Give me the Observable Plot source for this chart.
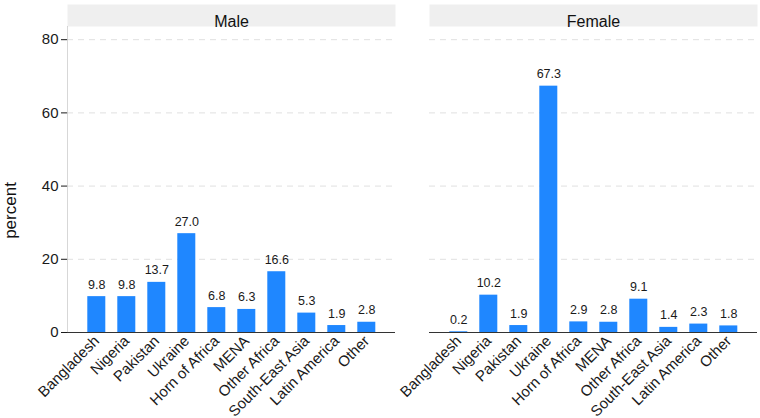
<!DOCTYPE html>
<html>
<head>
<meta charset="utf-8">
<script src="https://cdn.jsdelivr.net/npm/d3@7"></script>
<script src="https://cdn.jsdelivr.net/npm/@observablehq/plot@0.6"></script>
<style>
  html, body { margin: 0; padding: 0; background: #ffffff; }
  #chart { width: 760px; height: 418px; }
</style>
</head>
<body>
<div id="chart"></div>
<script>
const categories = ["Bangladesh", "Nigeria", "Pakistan", "Ukraine", "Horn of Africa", "MENA", "Other Africa", "South-East Asia", "Latin America", "Other"];
const sexes = ["Male", "Female"];
const maleValues = [9.8, 9.8, 13.7, 27.0, 6.8, 6.3, 16.6, 5.3, 1.9, 2.8];
const femaleValues = [0.2, 10.2, 1.9, 67.3, 2.9, 2.8, 9.1, 1.4, 2.3, 1.8];
const yTicks = [0, 20, 40, 60, 80];
const gridTicks = [20, 40, 60, 80];
const yLabel = "percent";

const rows = sexes.flatMap(s => categories.map((c, i) => ({
  sex: s,
  category: c,
  value: s === "Male" ? maleValues[i] : femaleValues[i]
})));

const H = 418, MT = 26, MB = 86;
const frameH = H - MT - MB;
const facetW = 329;

const chart = Plot.plot({
  width: 760,
  height: H,
  marginTop: MT,
  marginBottom: MB,
  marginLeft: 66.7,
  marginRight: 1.7,
  style: { fontFamily: "'Liberation Sans', Arial, Helvetica, sans-serif", fontSize: "13px", background: "#ffffff", color: "#1a1a1a" },
  fx: { domain: sexes, paddingInner: 0.0927, paddingOuter: 0, axis: null, label: null },
  x: { domain: categories, paddingInner: 0.41, paddingOuter: 0.6, axis: null, label: null },
  y: { domain: [0, 83.6], axis: null, label: null },
  marks: [
    Plot.frame({ fill: "#efefef", stroke: null, insetTop: -22, insetBottom: frameH }),
    Plot.text(sexes, { fx: d => d, text: d => d, frameAnchor: "top", dy: -10.5, fontSize: 16, fill: "#111" }),
    Plot.gridY(gridTicks, { stroke: "#e0e0e0", strokeOpacity: 1, strokeDasharray: "6,5" }),
    Plot.barY(rows, { fx: "sex", x: "category", y: "value", fill: "#1f87ff" }),
    Plot.text(rows, { fx: "sex", x: "category", y: "value", text: d => d.value.toFixed(1), dy: -12, fontSize: 12.5, fill: "#1a1a1a" }),
    Plot.ruleY([0], { stroke: "#333", strokeWidth: 1.2 }),
    Plot.rect(["Male"], { fx: d => d, fill: "#333", insetRight: facetW - 1.2 }),
    Plot.axisY({ ticks: yTicks, tickSize: 6, tickPadding: 3, fontSize: 15, label: null }),
    Plot.text([yLabel], { fx: () => "Male", text: d => d, frameAnchor: "left", rotate: -90, dx: -57, dy: 31, fontSize: 17, textAnchor: "middle", fill: "#111" }),
    Plot.axisX({ tickRotate: -45, tickSize: 0, tickPadding: 6, fontSize: 15, label: null })
  ]
});
document.getElementById("chart").appendChild(chart);
</script>
</body>
</html>
